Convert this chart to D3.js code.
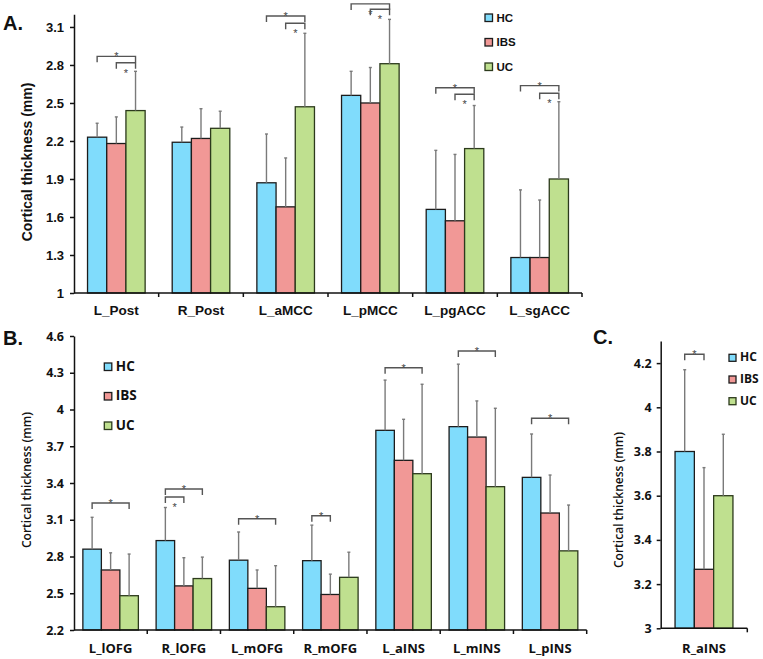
<!DOCTYPE html>
<html>
<head>
<meta charset="utf-8">
<script src="https://cdn.jsdelivr.net/npm/d3@7"></script>
<style>
  body { margin: 0; background: #fff; }
</style>
</head>
<body>
<svg id="chart" width="763" height="659"></svg>
<script>
const groups = ["HC", "IBS", "UC"];

// panel A
const regionsA = ["L_Post", "R_Post", "L_aMCC", "L_pMCC", "L_pgACC", "L_sgACC"];
const hcA = [2.23, 2.19, 1.87, 2.56, 1.66, 1.28];
const ibsA = [2.18, 2.22, 1.68, 2.50, 1.57, 1.28];
const ucA = [2.44, 2.30, 2.47, 2.81, 2.14, 1.90];
const hcSdA = [0.11, 0.12, 0.385, 0.19, 0.466, 0.534];
const ibsSdA = [0.21, 0.235, 0.386, 0.28, 0.524, 0.454];
const ucSdA = [0.31, 0.135, 0.58, 0.35, 0.34, 0.61];
const ticksA = [1, 1.3, 1.6, 1.9, 2.2, 2.5, 2.8, 3.1];
const sigA = [
  ["L_Post", "HC", "UC", 2.868, "up"], ["L_Post", "IBS", "UC", 2.818, "down"],
  ["L_aMCC", "HC", "UC", 3.187, "up"], ["L_aMCC", "IBS", "UC", 3.129, "down"],
  ["L_pMCC", "HC", "UC", 3.282, "down"], ["L_pMCC", "IBS", "UC", 3.24, "down"],
  ["L_pgACC", "HC", "UC", 2.62, "up"], ["L_pgACC", "IBS", "UC", 2.569, "down"],
  ["L_sgACC", "HC", "UC", 2.637, "up"], ["L_sgACC", "IBS", "UC", 2.577, "down"]
];

// panel B
const regionsB = ["L_lOFG", "R_lOFG", "L_mOFG", "R_mOFG", "L_aINS", "L_mINS", "L_pINS"];
const hcB = [2.86, 2.93, 2.77, 2.766, 3.83, 3.86, 3.446];
const ibsB = [2.69, 2.56, 2.54, 2.49, 3.585, 3.775, 3.155];
const ucB = [2.48, 2.62, 2.39, 2.63, 3.476, 3.37, 2.846];
const hcSdB = [0.26, 0.27, 0.23, 0.29, 0.41, 0.51, 0.354];
const ibsSdB = [0.14, 0.23, 0.15, 0.166, 0.335, 0.295, 0.31];
const ucSdB = [0.34, 0.175, 0.335, 0.205, 0.73, 0.64, 0.374];
const ticksB = [2.2, 2.5, 2.8, 3.1, 3.4, 3.7, 4, 4.3, 4.6];
const sigB = [
  ["L_lOFG", "HC", "UC", 3.237, "up"],
  ["R_lOFG", "HC", "UC", 3.351, "up"], ["R_lOFG", "HC", "IBS", 3.286, "down"],
  ["L_mOFG", "HC", "UC", 3.108, "up"],
  ["R_mOFG", "HC", "IBS", 3.133, "up"],
  ["L_aINS", "HC", "UC", 4.341, "up"],
  ["L_mINS", "HC", "UC", 4.477, "up"],
  ["L_pINS", "HC", "UC", 3.929, "up"]
];

// panel C
const regionsC = ["R_aINS"];
const hcC = [3.80];
const ibsC = [3.267];
const ucC = [3.60];
const hcSdC = [0.37];
const ibsSdC = [0.46];
const ucSdC = [0.278];
const ticksC = [3, 3.2, 3.4, 3.6, 3.8, 4, 4.2];
const sigC = [["R_aINS", "HC", "IBS", 4.24, "up"]];

const fill = { HC: "#80dcfc", IBS: "#f19896", UC: "#bfe08f" };
const edge = { HC: "#1c1c1c", IBS: "#1c1c1c", UC: "#2c3a1c" };

const svg = d3.select("#chart");

function drawPanel(p) {
  const g = svg.append("g");
  const rows = p.cats.map((c, i) => ({
    cat: c,
    vals: { HC: p.hc[i], IBS: p.ibs[i], UC: p.uc[i] },
    sd: { HC: p.hcSd[i], IBS: p.ibsSd[i], UC: p.ucSd[i] }
  }));

  const x = d3.scaleBand().domain(p.cats).range(p.xRange).padding(0);
  const groupW = p.barW * groups.length;
  const xs = d3.scaleBand().domain(groups).range([0, groupW]);
  const off = (x.bandwidth() - groupW) / 2;
  const y = d3.scaleLinear().domain(p.yDomain).range(p.yRange);
  const cx = (cat, s) => x(cat) + off + xs(s) + xs.bandwidth() / 2;

  // bars
  const cell = g.selectAll("g.cat").data(rows).join("g").attr("class", "cat");
  cell.selectAll("rect")
    .data((d) => groups.map((s) => ({ cat: d.cat, s, v: d.vals[s], sd: d.sd[s] })))
    .join("rect")
    .attr("x", (d) => x(d.cat) + off + xs(d.s))
    .attr("y", (d) => y(d.v))
    .attr("width", xs.bandwidth())
    .attr("height", (d) => y(p.yDomain[0]) - y(d.v))
    .attr("fill", (d) => fill[d.s])
    .attr("stroke", (d) => edge[d.s])
    .attr("stroke-width", 1.3);

  // error bars (upper only)
  const err = cell.selectAll("g.err")
    .data((d) => groups.map((s) => ({ cat: d.cat, s, v: d.vals[s], sd: d.sd[s] })))
    .join("g").attr("class", "err")
    .attr("stroke", "#7a7a7a")
    .attr("stroke-width", 1.4);
  err.append("line")
    .attr("x1", (d) => cx(d.cat, d.s)).attr("x2", (d) => cx(d.cat, d.s))
    .attr("y1", (d) => y(d.v)).attr("y2", (d) => y(d.v + d.sd));
  err.append("line")
    .attr("x1", (d) => cx(d.cat, d.s) - 1.5).attr("x2", (d) => cx(d.cat, d.s) + 1.5)
    .attr("y1", (d) => y(d.v + d.sd)).attr("y2", (d) => y(d.v + d.sd));

  // significance brackets
  const br = g.selectAll("g.sig").data(p.sig).join("g").attr("class", "sig");
  br.append("path")
    .attr("d", (d) => {
      const x1 = cx(d[0], d[1]), x2 = cx(d[0], d[2]), yy = y(d[3]);
      return `M${x1},${yy + 6}V${yy}H${x2}V${yy + 6}`;
    })
    .attr("fill", "none")
    .attr("stroke", "#555")
    .attr("stroke-width", 1.4);
  br.append("text")
    .attr("x", (d) => (cx(d[0], d[1]) + cx(d[0], d[2])) / 2)
    .attr("y", (d) => y(d[3]) + (d[4] === "up" ? 4 : 14))
    .attr("text-anchor", "middle")
    .attr("font-family", "Liberation Sans, Arial, sans-serif")
    .attr("font-size", 11)
    .attr("fill", "#444")
    .text("*");

  // y axis
  const ya = g.append("g")
    .attr("transform", `translate(${p.xRange[0]},0)`)
    .call(d3.axisLeft(y).tickValues(p.ticks).tickFormat((d) => String(d))
      .tickSizeInner(4).tickSizeOuter(0).tickPadding(p.tickPad));
  ya.select(".domain").attr("stroke", "#111").attr("stroke-width", 1.5);
  ya.selectAll(".tick line").attr("stroke", "#111").attr("stroke-width", 1.5);
  ya.selectAll("text")
    .attr("font-family", p.font)
    .attr("font-size", p.tickSize)
    .attr("font-weight", "bold")
    .attr("fill", "#111");

  // x axis
  const yb = y(p.yDomain[0]);
  g.append("line")
    .attr("x1", p.xRange[0]).attr("x2", p.xRange[1])
    .attr("y1", yb).attr("y2", yb)
    .attr("stroke", "#111").attr("stroke-width", 1.5);
  const edges = p.cats.map((c) => x(c) + x.bandwidth());
  g.selectAll("line.xt").data(edges).join("line").attr("class", "xt")
    .attr("x1", (d) => d).attr("x2", (d) => d)
    .attr("y1", yb).attr("y2", yb + 4)
    .attr("stroke", "#111").attr("stroke-width", 1.5);
  g.selectAll("text.cat").data(p.cats).join("text").attr("class", "cat")
    .attr("x", (d) => x(d) + x.bandwidth() / 2)
    .attr("y", p.catY)
    .attr("text-anchor", "middle")
    .attr("font-family", p.font)
    .attr("font-size", p.catSize)
    .attr("font-weight", "bold")
    .attr("fill", "#111")
    .text((d) => d);

  // y title
  g.append("text")
    .attr("transform", `translate(${p.titlePos[0]},${p.titlePos[1]}) rotate(-90)`)
    .attr("text-anchor", "middle")
    .attr("font-family", p.font)
    .attr("font-size", p.titleSize)
    .attr("font-weight", p.titleWeight)
    .attr("fill", "#111")
    .text("Cortical thickness (mm)");

  // legend
  const lg = g.selectAll("g.leg").data(groups).join("g").attr("class", "leg")
    .attr("transform", (d, i) => `translate(${p.legend[0]},${p.legend[1] + i * p.legend[2]})`);
  lg.append("rect")
    .attr("width", p.legend[3]).attr("height", p.legend[3])
    .attr("fill", (d) => fill[d])
    .attr("stroke", (d) => edge[d])
    .attr("stroke-width", 1.3);
  lg.append("text")
    .attr("x", p.legend[3] + 4)
    .attr("y", p.legend[3])
    .attr("font-family", p.font)
    .attr("font-size", p.legend[4])
    .attr("font-weight", "bold")
    .attr("fill", "#111")
    .text((d) => d);

  // panel letter
  g.append("text")
    .attr("x", p.letterPos[0]).attr("y", p.letterPos[1])
    .attr("font-family", "Liberation Sans, Arial, sans-serif")
    .attr("font-size", 20)
    .attr("font-weight", "bold")
    .attr("fill", "#111")
    .text(p.letter);
}

drawPanel({
  cats: regionsA, hc: hcA, ibs: ibsA, uc: ucA, hcSd: hcSdA, ibsSd: ibsSdA, ucSd: ucSdA,
  xRange: [74, 582], yDomain: [1, 3.2], yRange: [293, 14.3], ticks: ticksA, barW: 19.2,
  sig: sigA, font: "Liberation Sans, Arial, sans-serif", tickSize: 13, tickPad: 6,
  catY: 315, catSize: 13.5, titlePos: [32, 162], titleSize: 14, titleWeight: "bold",
  legend: [485, 14, 24.5, 7.5, 11.5], letter: "A.", letterPos: [3, 30]
});

drawPanel({
  cats: regionsB, hc: hcB, ibs: ibsB, uc: ucB, hcSd: hcSdB, ibsSd: ibsSdB, ucSd: ucSdB,
  xRange: [74, 586.7], yDomain: [2.2, 4.6], yRange: [630, 336], ticks: ticksB, barW: 18.5,
  sig: sigB, font: "Open Sans, sans-serif", tickSize: 12.5, tickPad: 6,
  catY: 652.5, catSize: 13, titlePos: [31, 480], titleSize: 12, titleWeight: 600,
  legend: [104.3, 363, 29.5, 7.5, 13.5], letter: "B.", letterPos: [3, 345]
});

drawPanel({
  cats: regionsC, hc: hcC, ibs: ibsC, uc: ucC, hcSd: hcSdC, ibsSd: ibsSdC, ucSd: ucSdC,
  xRange: [660.7, 747.3], yDomain: [3, 4.3], yRange: [628.3, 341], ticks: ticksC, barW: 19.3,
  sig: sigC, font: "Open Sans, sans-serif", tickSize: 12.5, tickPad: 5,
  catY: 652.5, catSize: 13, titlePos: [623, 500], titleSize: 12, titleWeight: 600,
  legend: [729, 354.3, 21.7, 7, 12], letter: "C.", letterPos: [593, 344]
});
</script>
</body>
</html>
